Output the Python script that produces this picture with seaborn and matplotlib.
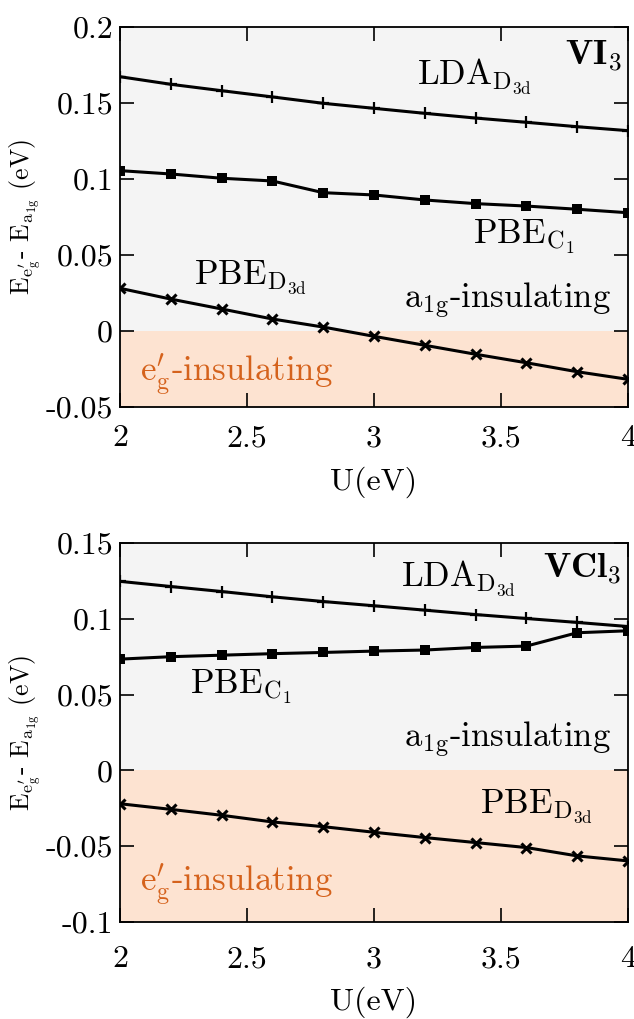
import numpy as np
import pandas as pd
import matplotlib
matplotlib.use("Agg")
import matplotlib.pyplot as plt
import seaborn as sns
from matplotlib.ticker import FixedLocator, FuncFormatter

# ---------------- data ----------------
U = [2.0, 2.2, 2.4, 2.6, 2.8, 3.0, 3.2, 3.4, 3.6, 3.8, 4.0]

vi3_lda_d3d = [0.1673, 0.1623, 0.1581, 0.1540, 0.1498, 0.1465, 0.1432, 0.1401, 0.1373, 0.1344, 0.1318]
vi3_pbe_c1 = [0.1055, 0.1033, 0.1005, 0.0987, 0.0910, 0.0895, 0.0862, 0.0838, 0.0822, 0.0801, 0.0778]
vi3_pbe_d3d = [0.0281, 0.0210, 0.0145, 0.0079, 0.0026, -0.0035, -0.0094, -0.0153, -0.0209, -0.0268, -0.0318]

vcl3_lda_d3d = [0.1247, 0.1213, 0.1180, 0.1145, 0.1114, 0.1086, 0.1057, 0.1028, 0.1002, 0.0976, 0.0949]
vcl3_pbe_c1 = [0.0734, 0.0750, 0.0760, 0.0770, 0.0778, 0.0787, 0.0794, 0.0811, 0.0820, 0.0908, 0.0921]
vcl3_pbe_d3d = [-0.0220, -0.0257, -0.0296, -0.0340, -0.0371, -0.0408, -0.0443, -0.0476, -0.0509, -0.0564, -0.0597]

x_ticks = [2, 2.5, 3, 3.5, 4]
top_yticks = [-0.05, 0, 0.05, 0.1, 0.15, 0.2]
bot_yticks = [-0.1, -0.05, 0, 0.05, 0.1, 0.15]

# ---------------- style ----------------
sns.set_style("ticks")
plt.rcParams["font.family"] = ["cmr10", "DejaVu Serif"]
plt.rcParams["mathtext.fontset"] = "cm"
plt.rcParams["axes.unicode_minus"] = False
plt.rcParams["axes.formatter.use_mathtext"] = True
for k in ["text.color", "axes.labelcolor", "xtick.color", "ytick.color",
          "xtick.labelcolor", "ytick.labelcolor", "axes.edgecolor"]:
    plt.rcParams[k] = "black"

GRAY = "#f4f4f4"
PEACH = "#fde3d1"
ORANGE = "#d5621c"

fig = plt.figure(figsize=(6.34, 10.19), dpi=100)
left, width = 120 / 634, 508 / 634
ax1 = fig.add_axes([left, 1 - 407 / 1019, width, 380 / 1019])
ax2 = fig.add_axes([left, 1 - 922 / 1019, width, 379 / 1019])

TICK_FS = 23
LBL_FS = 23
ANN_FS = 25

ylabel = r"$\mathrm{E}_{\mathrm{e}^{\prime}_{\mathrm{g}}}$- $\mathrm{E}_{\mathrm{a}_{1\mathrm{g}}}$ (eV)"


def draw(ax, lda, c1, d3d, ylim, yticks, xpad):
    ax.axhspan(0, ylim[1], color=GRAY, zorder=0, lw=0)
    ax.axhspan(ylim[0], 0, color=PEACH, zorder=0, lw=0)
    kw = dict(ax=ax, color="black", lw=2.2, markeredgecolor="black",
              markerfacecolor="black", zorder=3)
    sns.lineplot(x=U, y=lda, marker="+", markersize=9, markeredgewidth=1.6, **kw)
    sns.lineplot(x=U, y=c1, marker="s", markersize=6.5, markeredgewidth=0, **kw)
    sns.lineplot(x=U, y=d3d, marker="x", markersize=6.5, markeredgewidth=2.2, **kw)
    ax.set_xlim(2, 4)
    ax.set_ylim(*ylim)
    ax.xaxis.set_major_locator(FixedLocator(x_ticks))
    ax.yaxis.set_major_locator(FixedLocator(yticks))
    ax.xaxis.set_major_formatter(FuncFormatter(lambda v, p: "%g" % round(v, 3)))
    ax.yaxis.set_major_formatter(FuncFormatter(lambda v, p: "%g" % round(v, 3)))
    ax.tick_params(direction="in", length=10, width=1.2, top=True, right=True,
                   labelsize=TICK_FS, color="black")
    ax.tick_params(axis="x", pad=xpad)
    ax.tick_params(axis="y", pad=5)
    for s in ax.spines.values():
        s.set_linewidth(1.3)
        s.set_color("black")
        s.set_zorder(5)
    ax.set_xlabel("U(eV)", fontsize=LBL_FS, labelpad=10)
    ax.set_ylabel(ylabel, fontsize=18.5)
    ax.yaxis.set_label_coords(-0.15, 0.5)


draw(ax1, vi3_lda_d3d, vi3_pbe_c1, vi3_pbe_d3d, (-0.05, 0.2), top_yticks, 13)
draw(ax2, vcl3_lda_d3d, vcl3_pbe_c1, vcl3_pbe_d3d, (-0.1, 0.15), bot_yticks, 17)

lda_lbl = r"$\mathrm{LDA}_{\mathrm{D}_{3\mathrm{d}}}$"
c1_lbl = r"$\mathrm{PBE}_{\mathrm{C}_{1}}$"
d3d_lbl = r"$\mathrm{PBE}_{\mathrm{D}_{3\mathrm{d}}}$"
a1g_lbl = r"$\mathrm{a}_{1\mathrm{g}}$-insulating"
eg_lbl = r"$\mathrm{e}^{\prime}_{\mathrm{g}}$-insulating"

# top panel annotations
ax1.text(3.975, 0.175, r"$\mathbf{VI}_{\mathbf{3}}$", fontsize=26, ha="right", va="baseline")
ax1.text(3.17, 0.162, lda_lbl, fontsize=ANN_FS, ha="left", va="baseline")
ax1.text(3.39, 0.057, c1_lbl, fontsize=ANN_FS, ha="left", va="baseline")
ax1.text(2.29, 0.0303, d3d_lbl, fontsize=ANN_FS, ha="left", va="baseline")
ax1.text(3.12, 0.015, a1g_lbl, fontsize=ANN_FS, ha="left", va="baseline")
ax1.text(2.08, -0.0323, eg_lbl, fontsize=ANN_FS, ha="left", va="baseline", color=ORANGE)

# bottom panel annotations
ax2.text(3.975, 0.127, r"$\mathbf{VCl}_{\mathbf{3}}$", fontsize=26, ha="right", va="baseline")
ax2.text(3.106, 0.1208, lda_lbl, fontsize=ANN_FS, ha="left", va="baseline")
ax2.text(2.276, 0.0507, c1_lbl, fontsize=ANN_FS, ha="left", va="baseline")
ax2.text(3.12, 0.0155, a1g_lbl, fontsize=ANN_FS, ha="left", va="baseline")
ax2.text(3.417, -0.029, d3d_lbl, fontsize=ANN_FS, ha="left", va="baseline")
ax2.text(2.08, -0.0794, eg_lbl, fontsize=ANN_FS, ha="left", va="baseline", color=ORANGE)

fig.savefig("out.png", dpi=100)
